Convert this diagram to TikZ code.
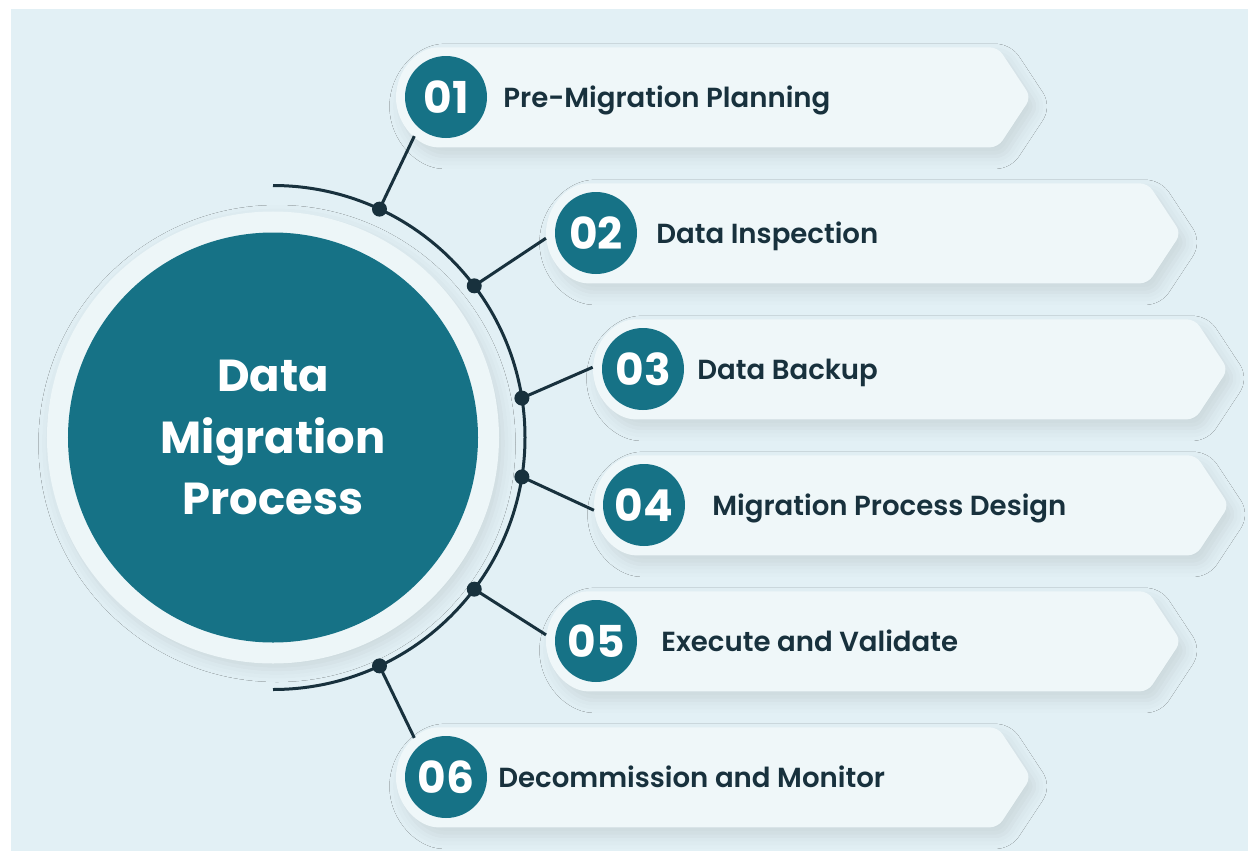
\documentclass[tikz,border=0pt]{standalone}
\usepackage{fontspec}
\setmainfont{Poppins}
\IfFontExistsTF{Poppins SemiBold}{\newfontfamily\semifont{Poppins SemiBold}}{\newcommand\semifont{\bfseries}}
\usetikzlibrary{positioning,calc,shadows.blur}

\begin{document}
\begin{tikzpicture}[
    x=0.2mm, y=0.2mm,
    hub/.style={circle, fill=tealc, minimum size=82mm, inner sep=0pt, align=center, text=white, font=\fontsize{25.5}{35}\selectfont\bfseries},
    hubring/.style={circle, fill=ringc, minimum size=90.4mm, inner sep=0pt, blur shadow={shadow xshift=0.8mm, shadow yshift=-1.2mm, shadow blur radius=2.5mm, shadow opacity=10}},
    halo/.style={circle, minimum size=20mm, inner sep=0pt},
    badge/.style={circle, fill=tealc, minimum size=16.4mm, inner sep=0pt, text=white, font=\fontsize{25}{25}\selectfont\bfseries},
    pill/.style={fill=pillc, rounded corners=1.6mm, blur shadow={shadow xshift=1.2mm, shadow yshift=-1.8mm, shadow blur radius=2.5mm, shadow opacity=10}},
    stepname/.style={anchor=base west, inner sep=0pt, text=navy, font=\fontsize{15.7}{18}\selectfont\semifont},
    link/.style={draw=navy, line width=0.6mm},
    dot/.style={circle, fill=navy, minimum size=3mm, inner sep=0pt}
]

\definecolor{bgc}{RGB}{226,240,245}
\definecolor{pillc}{RGB}{239,247,249}
\definecolor{ringc}{RGB}{237,246,248}
\definecolor{tealc}{RGB}{22,114,134}
\definecolor{navy}{RGB}{24,49,61}

% Canvas
\useasboundingbox (0,0) rectangle (1248,-851);
\fill[white] (0,0) rectangle (1248,-851);
\fill[bgc] (11,-9) rectangle (1248,-851);

% Centre circle
\node[hubring] (ring) at (273,-437.5) {};
\node[hub] (core) at (ring) {Data\\Migration\\Process};

% Arc round the centre
\draw[link] ($(core.center)+(90:252)$) arc[start angle=90, end angle=-90, radius=252];

% Step anchors (badge centres)
\node[halo] (s1) at (446,-97) {};
\node[halo] (s2) at (596,-233) {};
\node[halo] (s3) at (643,-369) {};
\node[halo] (s4) at (644,-505) {};
\node[halo] (s5) at (596,-641) {};
\node[halo] (s6) at (446,-777) {};

% Step bars
\fill[pill] (s1.south) arc[start angle=270, end angle=90, radius=50] -- ++(552,0) -- ++(33,-50) -- ++(-33,-50) -- cycle;
\fill[pill] (s2.south) arc[start angle=270, end angle=90, radius=50] -- ++(552,0) -- ++(33,-50) -- ++(-33,-50) -- cycle;
\fill[pill] (s3.south) arc[start angle=270, end angle=90, radius=50] -- ++(552,0) -- ++(33,-50) -- ++(-33,-50) -- cycle;
\fill[pill] (s4.south) arc[start angle=270, end angle=90, radius=50] -- ++(552,0) -- ++(33,-50) -- ++(-33,-50) -- cycle;
\fill[pill] (s5.south) arc[start angle=270, end angle=90, radius=50] -- ++(552,0) -- ++(33,-50) -- ++(-33,-50) -- cycle;
\fill[pill] (s6.south) arc[start angle=270, end angle=90, radius=50] -- ++(552,0) -- ++(33,-50) -- ++(-33,-50) -- cycle;

% Dots on the arc
\node[dot] (d1) at ($(core.center)+(65:252)$) {};
\node[dot] (d2) at ($(core.center)+(37:252)$) {};
\node[dot] (d3) at ($(core.center)+(9:252)$) {};
\node[dot] (d4) at ($(core.center)+(-9:252)$) {};
\node[dot] (d5) at ($(core.center)+(-37:252)$) {};
\node[dot] (d6) at ($(core.center)+(-65:252)$) {};

% Connectors
\draw[link] (d1.center) -- (s1.231);
\draw[link] (d2.center) -- (s2.186);
\draw[link] (d3.center) -- (s3.178);
\draw[link] (d4.center) -- (s4.186);
\draw[link] (d5.center) -- (s5.173);
\draw[link] (d6.center) -- (s6.129);

% Badges and step names
\node[badge] (b1) at (s1) {01};
\node[badge] (b2) at (s2) {02};
\node[badge] (b3) at (s3) {03};
\node[badge] (b4) at (s4) {04};
\node[badge] (b5) at (s5) {05};
\node[badge] (b6) at (s6) {06};

\node[stepname] (t1) at ($(b1.center)+(57,-10)$) {Pre-Migration Planning};
\node[stepname] (t2) at ($(b2.center)+(60,-10)$) {Data Inspection};
\node[stepname] (t3) at ($(b3.center)+(54,-10)$) {Data Backup};
\node[stepname] (t4) at ($(b4.center)+(68,-10)$) {Migration Process Design};
\node[stepname] (t5) at ($(b5.center)+(65,-10)$) {Execute and Validate};
\node[stepname] (t6) at ($(b6.center)+(52,-10)$) {Decommission and Monitor};

\end{tikzpicture}
\end{document}
